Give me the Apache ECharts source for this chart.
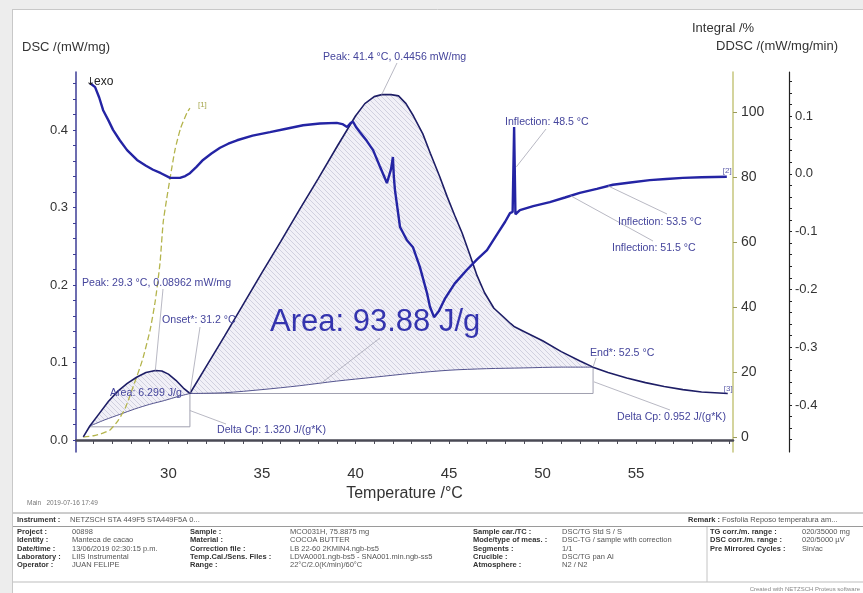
<!DOCTYPE html>
<html><head><meta charset="utf-8">
<script src="https://cdn.jsdelivr.net/npm/echarts@6/dist/echarts.min.js"></script>
<style>html,body{margin:0;padding:0;background:#fff}#c{width:863px;height:593px}</style>
</head><body><div id="c"></div>
<script>
// ---------- data (temperature °C, value) ----------
const dscCurve = [[25.45,0.004],[25.8,0.018],[26.3,0.034],[26.8,0.050],[27.3,0.063],[27.8,0.073],[28.3,0.081],[28.8,0.087],[29.3,0.0896],[29.65,0.089],[30.0,0.085],[30.4,0.077],[30.8,0.067],[31.15,0.060],
 [32.0,0.094],[33.0,0.134],[34.0,0.175],[35.0,0.216],[36.0,0.256],[37.0,0.297],[38.0,0.337],[39.0,0.378],[40.0,0.418],[40.5,0.434],[41.0,0.443],[41.4,0.4456],[41.9,0.4456],[42.3,0.444],[42.7,0.434],[43.1,0.418],[43.6,0.395],[44.0,0.370],[44.5,0.340],[44.9,0.314],[45.3,0.290],[45.7,0.267],[46.1,0.240],[46.5,0.212],[46.9,0.190],[47.4,0.170],[47.9,0.159],[48.3,0.150],[48.5,0.146],[49.0,0.140],[50.0,0.128],[51.0,0.114],[52.0,0.102],[52.7,0.094],[53.5,0.087],[54.5,0.080],[55.5,0.074],[56.5,0.069],[57.5,0.065],[58.5,0.062],[59.9,0.060]];
const baseline1 = [[25.8,0.018],[26.6,0.026],[27.4,0.033],[28.2,0.040],[29.0,0.046],[29.8,0.051],[30.5,0.056],[31.15,0.060]];
const baseline2 = [[31.15,0.060],[33.0,0.061],[35.0,0.065],[37.0,0.070],[39.0,0.076],[41.0,0.081],[43.0,0.086],[45.0,0.090],[47.0,0.092],[49.0,0.093],[51.0,0.094],[52.7,0.094]];
const step1 = [[25.8,0.017],[31.15,0.017],[31.15,0.060]];
const step2 = [[31.15,0.060],[52.7,0.060],[52.7,0.094]];
const integralCurve = [[25.45,0],[26.0,0.4],[26.5,1.2],[26.88,2.2],[27.3,5],[27.7,9],[28.11,15.4],[28.6,23.5],[29.02,32.9],[29.3,42],[29.55,53.5],[29.72,66],[29.9,73],[30.1,80],[30.35,88.3],[30.65,95],[30.99,99.7],[31.15,101.2]];
const ddscCurve = [[25.8,0.157],[26.08,0.150],[26.3,0.132],[26.51,0.110],[26.8,0.092],[27.04,0.076],[27.4,0.058],[27.79,0.041],[28.32,0.024],[28.8,0.014],[29.18,0.007],[29.6,0.001],[30.09,-0.007],[30.62,-0.007],[30.9,-0.004],[31.15,0.001],[31.5,0.012],[31.85,0.024],[32.3,0.035],[32.76,0.045],[33.2,0.052],[33.67,0.058],[34.5,0.066],[35.43,0.072],[36.3,0.078],[37.2,0.084],[38.1,0.087],[39.0,0.088],[39.3,0.086],[39.55,0.081],[39.75,0.088],[39.87,0.090],[40.05,0.080],[40.24,0.072],[40.6,0.057],[40.94,0.041],[41.3,0.013],[41.68,-0.016],[41.9,0.008],[42.0,0.029],[42.05,-0.005],[42.11,-0.028],[42.38,-0.092],[42.75,-0.115],[43.07,-0.127],[43.44,-0.161],[43.82,-0.206],[43.98,-0.230],[44.2,-0.248],[44.45,-0.238],[44.8,-0.215],[45.3,-0.190],[45.96,-0.166],[46.5,-0.148],[47.03,-0.132],[47.6,-0.103],[48.0,-0.083],[48.26,-0.068],[48.4,-0.066],[48.48,0.081],[48.55,-0.070],[48.79,-0.063],[49.5,-0.056],[50.39,-0.049],[51.2,-0.041],[51.99,-0.033],[52.9,-0.026],[53.76,-0.019],[54.7,-0.015],[55.73,-0.011],[56.6,-0.009],[57.5,-0.007],[58.5,-0.006],[59.85,-0.005]];

const xTickLabels = [30,35,40,45,50,55];
const dscTickLabels = [0.0,0.1,0.2,0.3,0.4];
const intTickLabels = [0,20,40,60,80,100];
const ddscTickLabels = [-0.4,-0.3,-0.2,-0.1,0.0,0.1];

// ---------- helpers ----------
const FONT = '"Liberation Sans", Arial, sans-serif';
function steps(a,b,s){const r=[];for(let i=0;a+i*s<=b+1e-9;i++)r.push(+(a+i*s).toFixed(4));return r;}

const pc = document.createElement('canvas'); pc.width=5; pc.height=5;
(function(){const g=pc.getContext('2d');g.fillStyle='#f1f0f7';g.fillRect(0,0,5,5);g.strokeStyle='#c2c2d4';g.lineWidth=0.7;g.beginPath();g.moveTo(0,0);g.lineTo(5,5);g.moveTo(-1,4);g.lineTo(1,6);g.moveTo(4,-1);g.lineTo(6,1);g.stroke();})();

const regions = [
  {upper:dscCurve, lower:baseline1, t0:25.8, t1:31.15},
  {upper:dscCurve, lower:baseline2, t0:31.15, t1:52.7}
];

const chart = echarts.init(document.getElementById('c'));
const axisText = {color:'#333', fontFamily:FONT};

const option = {
  animation:false,
  backgroundColor:'#ffffff',
  grid:{left:76, right:130, top:72, bottom:141, outerBoundsMode:'none'},
  xAxis:{type:'value', min:25.06, max:60.18,
    name:'Temperature /°C', nameLocation:'middle', nameGap:31, nameTextStyle:{fontSize:16, color:'#333', fontFamily:FONT},
    axisLine:{lineStyle:{color:'#4a4a55', width:2.5}},
    axisTick:{customValues:steps(26,60,1), length:4, lineStyle:{color:'#4a4a55'}},
    axisLabel:{customValues:xTickLabels, fontSize:15, margin:14, ...axisText},
    splitLine:{show:false}},
  yAxis:[
    {type:'value', position:'left', min:-0.0155, max:0.4748,
     axisLine:{show:true, lineStyle:{color:'#3c3c96', width:1.5}},
     axisTick:{show:true, customValues:steps(0,0.46,0.02), length:3, lineStyle:{color:'#3c3c96'}},
     axisLabel:{customValues:dscTickLabels, formatter:v=>(+v).toFixed(1), fontSize:13, margin:8, ...axisText},
     splitLine:{show:false}},
    {type:'value', position:'right', offset:0, min:-4.6, max:112.3,
     axisLine:{show:true, lineStyle:{color:'#c6c67c', width:1.5}},
     axisTick:{show:true, customValues:intTickLabels, length:4, lineStyle:{color:'#9a9a5a'}},
     axisLabel:{customValues:intTickLabels, fontSize:14, margin:8, ...axisText},
     splitLine:{show:false}},
    {type:'value', position:'right', offset:56, min:-0.4813, max:0.1761,
     axisLine:{show:true, lineStyle:{color:'#222', width:1.2}},
     axisTick:{show:true, customValues:steps(-0.46,0.16,0.02), length:3, lineStyle:{color:'#222'}},
     axisLabel:{customValues:ddscTickLabels, formatter:v=>(+v).toFixed(1), fontSize:13, margin:6, ...axisText},
     splitLine:{show:false}}
  ],
  series:[
    {type:'custom', coordinateSystem:'cartesian2d', xAxisIndex:0, yAxisIndex:0, silent:true, z:1,
     data:[[25.8,0.018],[31.15,0.060]], encode:{x:0,y:1},
     renderItem:function(params, api){
       const f = regions[params.dataIndex];
       const pts = [];
       f.upper.forEach(p=>{ if(p[0]>=f.t0-1e-9 && p[0]<=f.t1+1e-9) pts.push(api.coord(p)); });
       f.lower.slice().reverse().forEach(p=>pts.push(api.coord(p)));
       return {type:'polygon', shape:{points:pts}, style:{fill:{image:pc, repeat:'repeat'}, stroke:null}};
     }},
    {type:'line', data:step1, yAxisIndex:0, symbol:'none', silent:true, lineStyle:{color:'#a0a0b0', width:1}, z:2},
    {type:'line', data:step2, yAxisIndex:0, symbol:'none', silent:true, lineStyle:{color:'#a0a0b0', width:1}, z:2},
    {type:'line', data:baseline1, yAxisIndex:0, symbol:'none', silent:true, smooth:0.3, lineStyle:{color:'#55558f', width:1}, z:3},
    {type:'line', data:baseline2, yAxisIndex:0, symbol:'none', silent:true, smooth:0.3, lineStyle:{color:'#55558f', width:1}, z:3},
    {type:'line', data:dscCurve, yAxisIndex:0, symbol:'none', silent:true, lineStyle:{color:'#1e1e66', width:1.6}, z:5,
     endLabel:{show:true, formatter:'[3]', color:'#5a5aa8', fontSize:8, offset:[-12,-5]}},
    {type:'line', data:integralCurve, yAxisIndex:1, symbol:'none', silent:true, smooth:0.2, lineStyle:{color:'#b4b44c', width:1.3, type:[6,3]}, z:4,
     endLabel:{show:true, formatter:'[1]', color:'#a8a850', fontSize:8, offset:[0,-3]}},
    {type:'line', data:ddscCurve, yAxisIndex:2, symbol:'none', silent:true, lineStyle:{color:'#2424a4', width:2.4}, z:6,
     endLabel:{show:true, formatter:'[2]', color:'#5a5aa8', fontSize:8, offset:[-12,-6]}}
  ]
};
chart.setOption(option);

// ---------- annotations (text placement in pixels, anchors in data space) ----------
const DSC = 5, DDSC = 7;
const toPx = (si,p)=>chart.convertToPixel({seriesIndex:si}, p);
const notes = [
  {text:'Peak: 41.4 °C, 0.4456 mW/mg', x:323, y:57, from:[397,63], to:[41.4,0.4456], s:DSC},
  {text:'Peak: 29.3 °C, 0.08962 mW/mg', x:82, y:283, from:[163,289], to:[29.3,0.0896], s:DSC},
  {text:'Onset*: 31.2 °C', x:162, y:320, from:[200,327], to:[31.15,0.060], s:DSC},
  {text:'Area: 6.299 J/g', x:110, y:393},
  {text:'Delta Cp: 1.320 J/(g*K)', x:217, y:430, from:[226,424], to:[31.15,0.038], s:DSC},
  {text:'Inflection: 48.5 °C', x:505, y:122, from:[546,129], to:[48.6,0.012], s:DDSC},
  {text:'Inflection: 53.5 °C', x:618, y:222, from:[667,214], to:[53.5,-0.021], s:DDSC},
  {text:'Inflection: 51.5 °C', x:612, y:248, from:[653,241], to:[51.5,-0.038], s:DDSC},
  {text:'End*: 52.5 °C', x:590, y:353, from:[596,358], to:[52.7,0.094], s:DSC},
  {text:'Delta Cp: 0.952 J/(g*K)', x:617, y:417, from:[670,410], to:[52.75,0.075], s:DSC}
];
const G = [];
function txt(t,x,y,size,color,opts){
  opts=opts||{};
  G.push({type:'text', silent:true, z:opts.z||20, style:{text:t, x:x, y:y, fill:color, fontSize:size, fontFamily:opts.family||FONT, fontWeight:opts.bold?'bold':'normal',
    align:opts.align||'left', verticalAlign:'middle', textAlign:opts.align||'left', textVerticalAlign:'middle'}});
}
function line(x1,y1,x2,y2,color,w,z){G.push({type:'line', silent:true, z:z||15, shape:{x1:x1,y1:y1,x2:x2,y2:y2}, style:{stroke:color, lineWidth:w||1}});}

// page frame
G.push({type:'rect', silent:true, z:0, shape:{x:0,y:0,width:863,height:9}, style:{fill:'#ededed'}});
G.push({type:'rect', silent:true, z:0, shape:{x:0,y:0,width:12,height:593}, style:{fill:'#ededed'}});
line(12,9.5,863,9.5,'#c8c8c8',1,1);
line(12.5,9,12.5,593,'#c8c8c8',1,1);

notes.forEach(n=>{
  if(n.from){const p=toPx(n.s,n.to); line(n.from[0],n.from[1],p[0],p[1],'#a6a6b4',0.8);}
  txt(n.text,n.x,n.y,10.6,'#45459c');
});
// big area label
{const p=toPx(DSC,[38.1,0.072]); line(p[0],p[1],380,338,'#a6a6b4',0.8);}
txt('Area: 93.88 J/g',270,322,31,'#3434ae');
txt('↓',86,82,11,'#222',{family:'"DejaVu Sans", sans-serif'});
txt('exo',94,82,12,'#222');

// axis titles
txt('DSC /(mW/mg)',22,47,13,'#333');
txt('Integral /%',692,28,13,'#333');
txt('DDSC /(mW/mg/min)',716,46,13,'#333');

// footer / table
txt('Main   2019-07-16 17:49',27,503,6.5,'#777');
line(13,513,863,513,'#9a9a9a',1);
line(13,526.5,863,526.5,'#9a9a9a',1);
line(13,582,863,582,'#bdbdbd',1);
line(707,527,707,582,'#c4c4c4',1);
txt('Instrument :',17,520,7.5,'#333',{bold:true});
txt('NETZSCH STA 449F5 STA449F5A 0...',70,520,7.5,'#555');
txt('Remark :',688,520,7.5,'#333',{bold:true});
txt('Fosfolia Reposo temperatura am...',722,520,7.5,'#555');

const tableRows = [
 ['Project :','00898','Sample :','MCO031H, 75.8875 mg','Sample car./TC :','DSC/TG Std S / S','TG corr./m. range :','020/35000 mg'],
 ['Identity :','Manteca de cacao','Material :','COCOA BUTTER','Mode/type of meas. :','DSC-TG / sample with correction','DSC corr./m. range :','020/5000 µV'],
 ['Date/time :','13/06/2019 02:30:15 p.m.','Correction file :','LB 22-60 2KMIN4.ngb-bs5','Segments :','1/1','Pre Mirrored Cycles :','Sin/ac'],
 ['Laboratory :','LIIS Instrumental','Temp.Cal./Sens. Files :','LDVA0001.ngb-bs5 - SNA001.min.ngb-ss5','Crucible :','DSC/TG pan Al','',''],
 ['Operator :','JUAN FELIPE','Range :','22°C/2.0(K/min)/60°C','Atmosphere :','N2 / N2','','']
];
const colX = [17,72,190,290,473,562,710,802];
const rowY = [532,540.3,548.6,556.9,565.2];
tableRows.forEach((r,i)=>{
  r.forEach((t,j)=>{ if(t) txt(t,colX[j],rowY[i],7.5,j%2===0?'#333':'#555',{bold:j%2===0}); });
});
txt('Created with NETZSCH Proteus software',860,589,6,'#888',{align:'right'});

chart.setOption({graphic:{elements:G}});
</script>
</body></html>
